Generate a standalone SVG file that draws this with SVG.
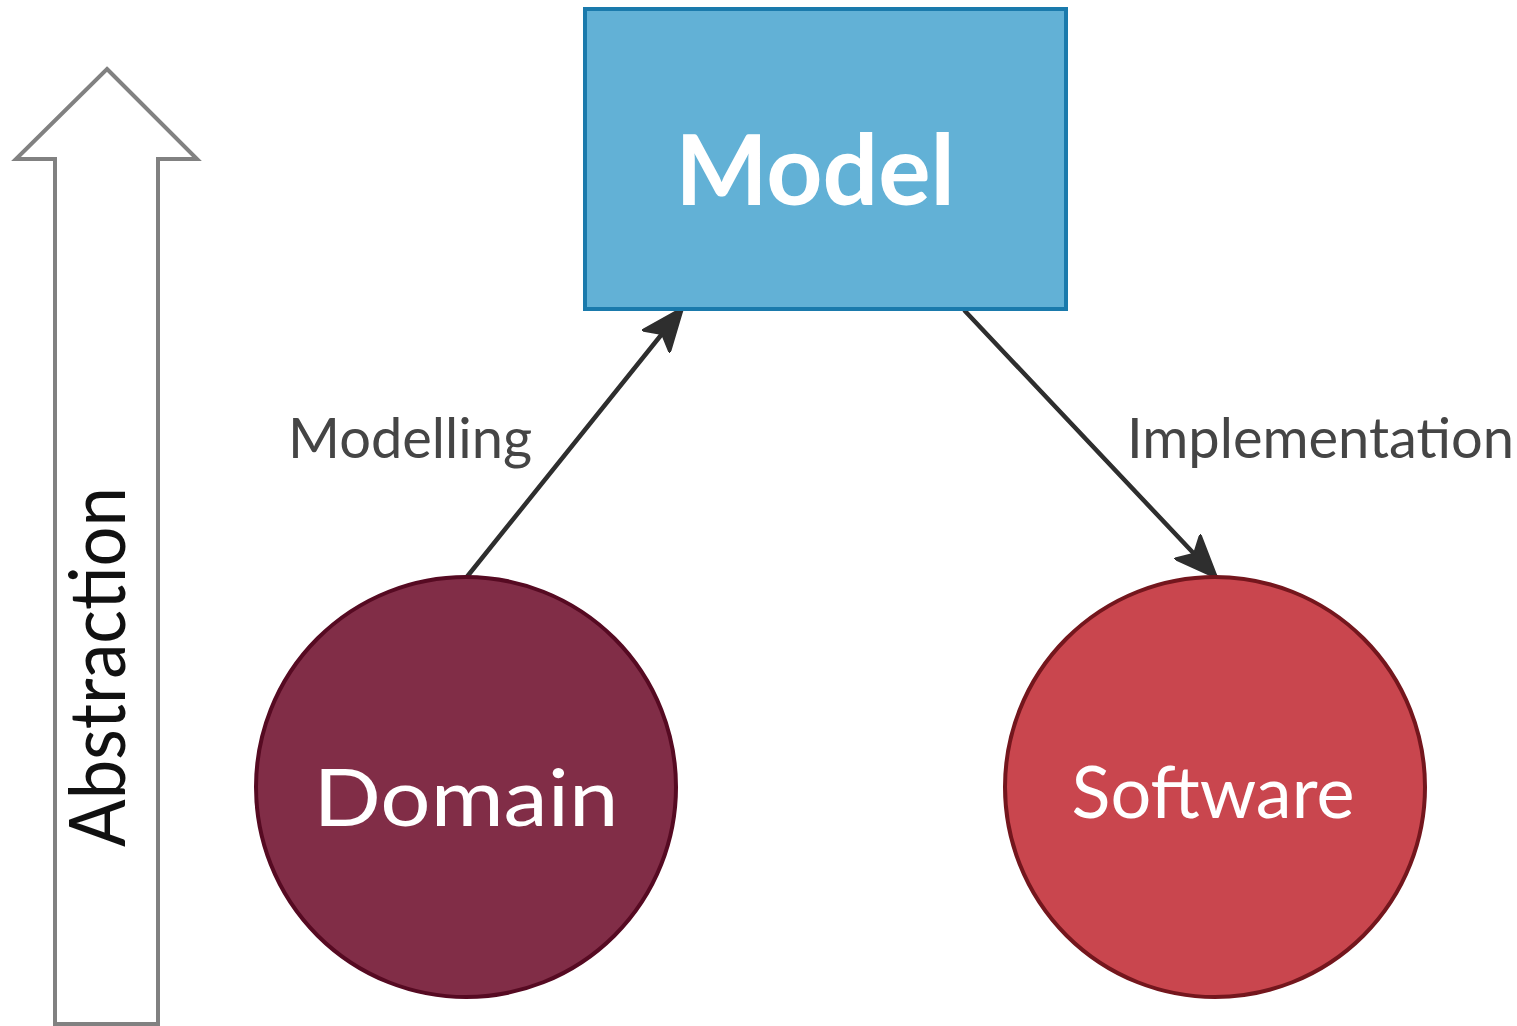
<svg xmlns="http://www.w3.org/2000/svg" width="1517" height="1026" viewBox="0 0 1517 1026">
<style>
.lbl{font-family:Lato,"Liberation Sans",sans-serif;fill:#454545;font-size:56px}
.wt{font-family:Lato,"Liberation Sans",sans-serif;fill:#ffffff;text-anchor:middle}
.conn{stroke:#2e2e2e;stroke-width:4.5;fill:none}
</style>
<defs>
<marker id="ah" viewBox="0 0 44 36" refX="42" refY="18" markerWidth="44" markerHeight="36" markerUnits="userSpaceOnUse" orient="auto">
<path d="M0,0 L44,18 L0,36 L10,18 Z" fill="#2e2e2e" stroke="#2e2e2e" stroke-width="2" stroke-linejoin="round"/>
</marker>
</defs>
<rect width="1517" height="1026" fill="#ffffff"/>
<g id="abstraction">
<path d="M107,69 L197,159 L158,159 L158,1024 L55,1024 L55,159 L16,159 Z" fill="#ffffff" stroke="#818181" stroke-width="4" stroke-linejoin="miter"/>
<text transform="translate(125,667) rotate(-90)" font-family="Lato,'Liberation Sans',sans-serif" font-size="77" fill="#111111" text-anchor="middle" textLength="360" lengthAdjust="spacingAndGlyphs">Abstraction</text>
</g>
<g id="connectors">
<line class="conn" x1="466" y1="578" x2="682" y2="309" marker-end="url(#ah)" stroke-linecap="round"/>
<line class="conn" x1="965" y1="311" x2="1216" y2="577" marker-end="url(#ah)" stroke-linecap="round"/>
<text class="lbl" x="288" y="458">Modelling</text>
<text class="lbl" x="1127" y="458" font-size="55">Implementation</text>
</g>
<g id="model">
<rect x="585" y="9" width="481" height="300" fill="#62b1d6" stroke="#1a7aac" stroke-width="4"/>
<text class="wt" x="815" y="205" font-size="98" font-weight="bold">Model</text>
</g>
<g id="domain">
<circle cx="466" cy="787" r="210" fill="#812d47" stroke="#560a22" stroke-width="4"/>
<text class="wt" x="466" y="826" font-size="80" textLength="305" lengthAdjust="spacingAndGlyphs">Domain</text>
</g>
<g id="software">
<circle cx="1215" cy="787" r="210" fill="#c9464e" stroke="#74161d" stroke-width="4"/>
<text class="wt" x="1213" y="818" font-size="72">Software</text>
</g>
</svg>
